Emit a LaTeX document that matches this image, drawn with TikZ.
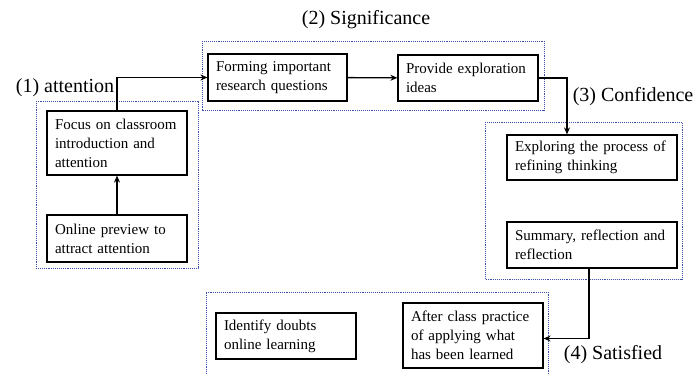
\documentclass[tikz,border=0pt]{standalone}
\usepackage{fontspec}
\setmainfont{Liberation Serif}
\usetikzlibrary{arrows.meta}
\definecolor{grpblue}{RGB}{60,80,170}

\tikzset{
  box/.style={draw, line width=1.2pt, inner xsep=8pt, inner ysep=0pt, align=left,
    font=\fontsize{15}{19}\selectfont},
  group/.style={draw=grpblue, densely dotted, line width=0.9pt},
  stage/.style={font=\fontsize{20}{24}\selectfont, inner sep=0pt},
  flow/.style={line width=1.4pt, -{Stealth[length=7pt,width=6pt]}}
}

\begin{document}
\begin{tikzpicture}[x=1pt,y=-1pt]
    \useasboundingbox (0,0) rectangle (694,374);

    \draw[group] (36,101) rectangle (198,268);
    \draw[group] (202,41) rectangle (544,110);
    \draw[group] (485,122) rectangle (682,279);
    \draw[group] (206,374) |- (548,292) -- (548,374);

    \node[stage] (s1) at (65,88) {(1) attention};
    \node[stage] (s2) at (366,20) {(2) Significance};
    \node[stage] (s3) at (633,97) {(3) Confidence};
    \node[stage] (s4) at (613,355) {(4) Satisfied};

    \node[box, text width=124pt, minimum height=64pt] (focus) at (117,143) {Focus on classroom\\introduction and\\attention};
    \node[box, text width=124pt, minimum height=47pt] (online) at (117,238.5) {Online preview to\\attract attention};
    \node[box, text width=123pt, minimum height=47pt] (forming) at (277.5,77.5) {Forming important\\research questions};
    \node[box, text width=124pt, minimum height=46pt] (provide) at (468,78) {Provide exploration\\ideas};
    \node[box, text width=154pt, minimum height=45pt] (exploring) at (592,157.5) {Exploring the process of\\refining thinking};
    \node[box, text width=154pt, minimum height=46pt] (summary) at (592,245) {Summary, reflection and\\reflection};
    \node[box, text width=124pt, minimum height=46pt] (identify) at (286,336) {Identify doubts\\online learning};
    \node[box, text width=124pt, minimum height=65pt] (after) at (473,335.5) {After class practice\\of applying what\\has been learned};

    \draw[flow] (online) -- (focus);
    \draw[flow] (focus.north) |- (forming.west);
    \draw[flow] (forming) -- (provide);
    \draw[flow] (provide.east) -| ([xshift=-25pt]exploring.north);
    \draw[flow] ([xshift=-3pt]summary.south) |- ([yshift=-3pt]after.east);
\end{tikzpicture}
\end{document}
